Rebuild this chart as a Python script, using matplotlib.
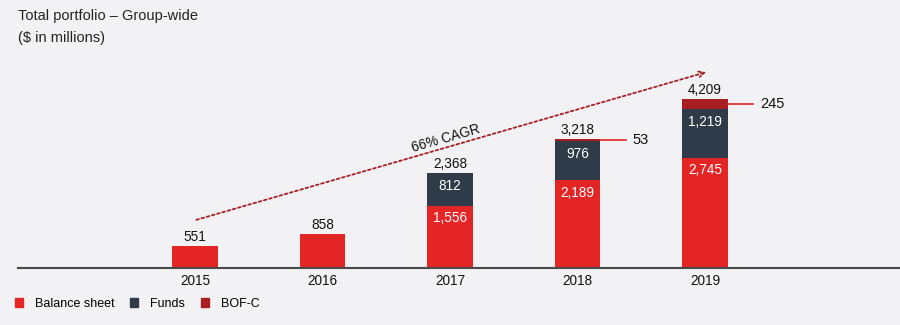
import matplotlib.pyplot as plt
from matplotlib.patches import Patch
import numpy as np

plt.rcParams['font.family'] = ['Liberation Sans', 'DejaVu Sans']

# data
years = ['2015', '2016', '2017', '2018', '2019']
balance_sheet = [551, 858, 1556, 2189, 2745]
funds = [0, 0, 812, 976, 1219]
bofc = [0, 0, 0, 53, 245]
totals = [551, 858, 2368, 3218, 4209]
cagr_label = '66% CAGR'

c_bs = '#e32526'
c_funds = '#2f3b48'
c_bofc = '#a81e22'
bg = '#f2f2f4'

fig = plt.figure(figsize=(9, 3.25), dpi=100, facecolor=bg)
# baseline at y=268px, 0.0401 px per unit
ax = fig.add_axes([18 / 900, (325 - 268) / 325, 882 / 900, 228 / 325])
ax.set_facecolor(bg)

x = np.arange(len(years))
w = 0.353
bs = np.array(balance_sheet)
fu = np.array(funds)
bo = np.array(bofc)

ax.bar(x, bs, w, color=c_bs, zorder=2)
ax.bar(x, fu, w, bottom=bs, color=c_funds, zorder=2)
ax.bar(x, bo, w, bottom=bs + fu, color=c_bofc, zorder=2)

ax.set_xlim((18 - 195) / 127.5, (900 - 195) / 127.5)
ax.set_ylim(0, 228 / 0.0401)

# labels inside segments (near the top)
for i in range(len(years)):
    if fu[i] > 0:
        ax.annotate(f'{bs[i]:,}', (x[i], bs[i]), xytext=(0, -9), textcoords='offset points',
                    ha='center', va='center', color='white', fontsize=9.8)
        ax.annotate(f'{fu[i]:,}', (x[i], bs[i] + fu[i]), xytext=(0, -9.5), textcoords='offset points',
                    ha='center', va='center', color='white', fontsize=9.8)
    ax.annotate(f'{totals[i]:,}', (x[i], totals[i]), xytext=(0, 1.5), textcoords='offset points',
                ha='center', va='bottom', color='#111111', fontsize=9.8)
    if bo[i] > 0:
        ymid = bs[i] + fu[i] + bo[i] / 2
        ax.plot([x[i] + w / 2, x[i] + w / 2 + 0.2], [ymid, ymid], color=c_bs, lw=1.2, zorder=3)
        ax.annotate(f'{bo[i]:,}', (x[i] + w / 2 + 0.2, ymid), xytext=(5, 0), textcoords='offset points',
                    ha='left', va='center', color='#111111', fontsize=10.5)

# CAGR arrow
ax.annotate('', xy=(4.01, 4885), xytext=(0.01, 1200),
            arrowprops=dict(arrowstyle='->', color=c_bofc, lw=1.3, linestyle=(0, (1.5, 1.5)),
                            shrinkA=0, shrinkB=0))
ax.text(1.97, 3240, cagr_label, rotation=16, ha='center', va='center', fontsize=9.8, color='#111111')

ax.set_xticks(x)
ax.set_xticklabels(years, fontsize=9.8, color='#111111')
ax.tick_params(axis='x', length=0, pad=4)
ax.set_yticks([])
for s in ['top', 'right', 'left']:
    ax.spines[s].set_visible(False)
ax.spines['bottom'].set_color('#4a4a4a')
ax.spines['bottom'].set_linewidth(1.5)

fig.text(18 / 900, 1 - 16 / 325, 'Total portfolio – Group-wide', fontsize=10.5, va='center', color='#222222')
fig.text(18 / 900, 1 - 38 / 325, '($ in millions)', fontsize=10.5, va='center', color='#222222')

handles = [Patch(color=c_bs), Patch(color=c_funds), Patch(color=c_bofc)]
fig.legend(handles, ['Balance sheet', 'Funds', 'BOF-C'], loc='center left',
           bbox_to_anchor=(15 / 900, 1 - 304 / 325), ncol=3, frameon=False, fontsize=9,
           borderpad=0, borderaxespad=0,
           handlelength=0.65, handleheight=0.65, handletextpad=0.95, columnspacing=1.25)

fig.savefig('out.png', dpi=100, facecolor=bg)
